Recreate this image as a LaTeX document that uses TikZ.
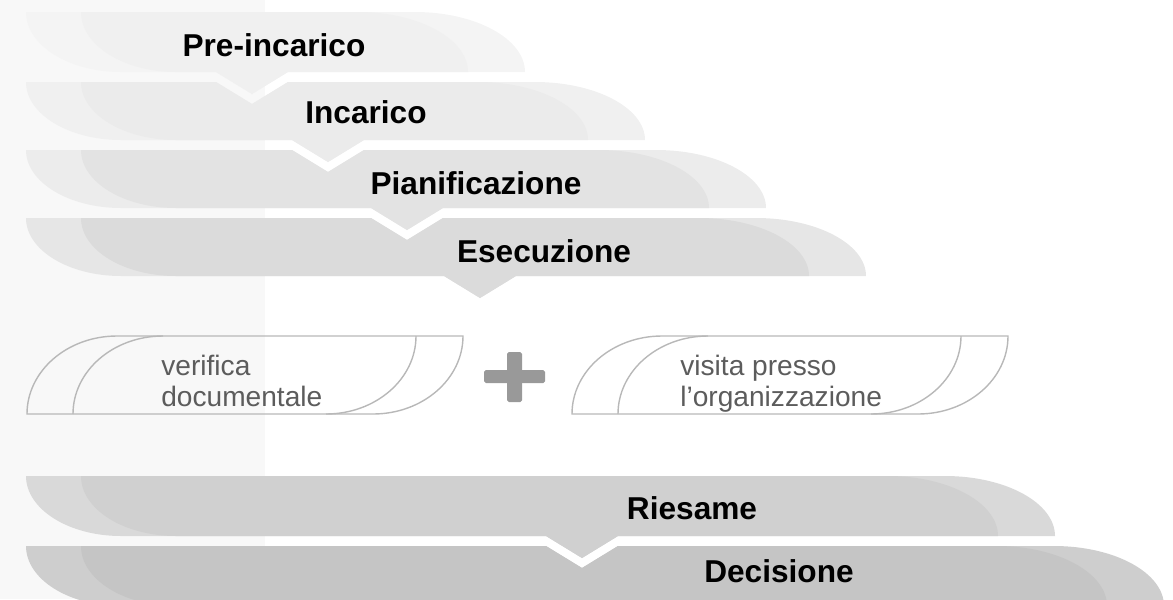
\documentclass[tikz,border=0pt]{standalone}
\usepackage{fontspec}
\setmainfont{Liberation Sans}
\usepackage{tikz}
\usetikzlibrary{positioning}

\definecolor{bgleft}{HTML}{F8F8F8}
\definecolor{preout}{HTML}{F4F4F4}
\definecolor{prein}{HTML}{F0F0F0}
\definecolor{incout}{HTML}{F0F0F0}
\definecolor{incin}{HTML}{EBEBEB}
\definecolor{pianout}{HTML}{ECECEC}
\definecolor{pianin}{HTML}{E3E3E3}
\definecolor{esecout}{HTML}{E6E6E6}
\definecolor{esecin}{HTML}{DBDBDB}
\definecolor{riesout}{HTML}{D9D9D9}
\definecolor{riesin}{HTML}{D0D0D0}
\definecolor{decout}{HTML}{CECECE}
\definecolor{decin}{HTML}{C5C5C5}
\definecolor{boxline}{HTML}{B8B8B8}
\definecolor{tasktext}{HTML}{5C5C5C}
\definecolor{plusgray}{HTML}{999999}

% band: left, right, top, bottom, notch x, notch depth, tab x, tab depth
\newcommand{\bandpath}[8]{%
  (#1,#3) -- ({#5-36},#3) -- (#5,{#3+#6}) -- ({#5+36},#3)
  -- ({#2-110},#3) .. controls ({#2-110+0.552*110},#3) and (#2,{#4-0.552*(#4-#3)}) .. (#2,#4)
  -- ({#7+36},#4) -- (#7,{#4+#8}) -- ({#7-36},#4)
  -- ({#1+95},#4) .. controls ({#1+95-0.552*95},#4) and (#1,{#3+0.552*(#4-#3)}) .. (#1,#3) -- cycle}

% outlined task box from its left x
\newcommand{\taskshape}[1]{%
  \draw[outline] (#1,414) .. controls (#1,{414-0.552*78}) and ({#1+90-0.552*90},336) .. ({#1+90},336)
    -- ({#1+436},336) .. controls ({#1+436},{336+0.552*78}) and ({#1+346+0.552*90},414) .. ({#1+346},414) -- cycle;
  \draw[outline] ({#1+46},414) .. controls ({#1+46},{414-0.552*78}) and ({#1+136-0.552*90},336) .. ({#1+136},336);
  \draw[outline] ({#1+389},336) .. controls ({#1+389},{336+0.552*78}) and ({#1+299+0.552*90},414) .. ({#1+299},414);
}

\begin{document}
\begin{tikzpicture}[x=0.02cm, y=-0.02cm]
\tikzset{
  phase/.style={font=\fontsize{18}{20}\selectfont\bfseries, text=black, inner sep=0pt},
  task/.style={font=\fontsize{16}{15.5}\selectfont, text=tasktext, align=left, anchor=west, inner sep=0pt},
  outline/.style={draw=boxline, line width=0.8pt},
  plus/.style={fill=plusgray, rounded corners=1pt},
}
\clip (0,0) rectangle (1173,599);
\fill[bgleft] (0,0) rectangle (265,599);

% phase bands
\fill[preout] \bandpath{26}{525}{12}{72}{252}{0}{252}{22};
\fill[prein] \bandpath{81}{468}{12}{72}{252}{0}{252}{22};
\fill[incout] \bandpath{26}{645}{82}{140}{252}{22}{328}{22};
\fill[incin] \bandpath{81}{588}{82}{140}{252}{22}{328}{22};
\fill[pianout] \bandpath{26}{766}{150}{208}{328}{22}{407}{22};
\fill[pianin] \bandpath{81}{709}{150}{208}{328}{22}{407}{22};
\fill[esecout] \bandpath{26}{866}{218}{276}{407}{22}{480}{22};
\fill[esecin] \bandpath{81}{809}{218}{276}{407}{22}{480}{22};
\fill[riesout] \bandpath{26}{1055}{476}{536}{582}{0}{582}{22};
\fill[riesin] \bandpath{81}{998}{476}{536}{582}{0}{582}{22};
\fill[decout] \bandpath{26}{1164}{546}{606}{582}{22}{582}{0};
\fill[decin] \bandpath{81}{1107}{546}{606}{582}{22}{582}{0};

\node[phase] (preinc) at (274,45) {Pre-incarico};
\node[phase] (incarico) at (366,112) {Incarico};
\node[phase] (pianif) at (476,183) {Pianificazione};
\node[phase] (esec) at (544,251) {Esecuzione};
\node[phase] (riesame) at (692,508) {Riesame};
\node[phase] (decisione) at (779,571) {Decisione};

% the two checks
\taskshape{27}
\taskshape{572}
\node[task] (verifica) at (161,385) {\strut verifica\\documentale\strut};
\node[task] (visita) at (680,385) {\strut visita presso\\l’organizzazione\strut};

\fill[plus] (484,370) rectangle (545,383);
\fill[plus] (507,352) rectangle (522,402);
\end{tikzpicture}
\end{document}
